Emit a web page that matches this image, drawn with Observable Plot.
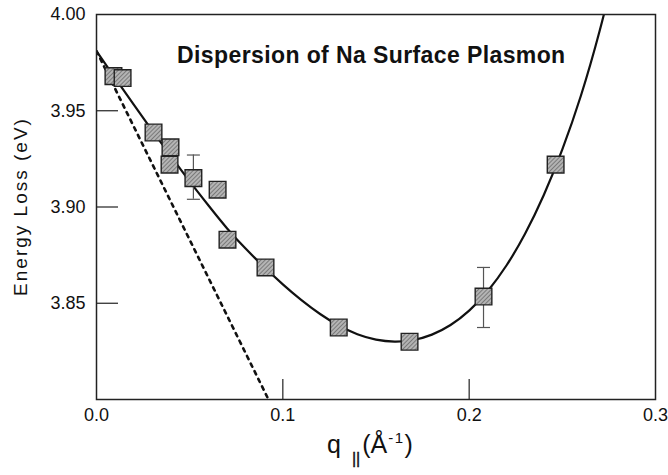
<!DOCTYPE html>
<html>
<head>
<meta charset="utf-8">
<script src="https://cdn.jsdelivr.net/npm/d3@7"></script>
<script src="https://cdn.jsdelivr.net/npm/@observablehq/plot@0.6"></script>
<style>
  html, body { margin: 0; padding: 0; background: #fff; }
  svg { display: block; }
</style>
</head>
<body>
<div id="chart"></div>
<script>
// Measured data points (q in 1/Å, energy loss in eV)
const qPoints = [0.0091, 0.0140, 0.0306, 0.0392, 0.0397, 0.0520, 0.0650, 0.0703, 0.0907, 0.1300, 0.1680, 0.2077, 0.2464];
const ePoints = [3.968, 3.967, 3.9387, 3.922, 3.931, 3.915, 3.909, 3.883, 3.8686, 3.8374, 3.830, 3.8535, 3.922];

// Error bars
const errQ = [0.0520, 0.2077];
const errLo = [3.904, 3.8374];
const errHi = [3.927, 3.8686];

// Solid fitted curve
const curveQ = [0, 0.01, 0.02, 0.03, 0.04, 0.05, 0.06, 0.07, 0.08, 0.09, 0.10, 0.11, 0.12, 0.13, 0.14, 0.15, 0.16, 0.17, 0.18, 0.19, 0.20, 0.21, 0.22, 0.23, 0.24, 0.25, 0.26, 0.27, 0.28];
const curveE = [3.981, 3.967, 3.9532, 3.9396, 3.9263, 3.9133, 3.9009, 3.8890, 3.8784, 3.8688, 3.8598, 3.8516, 3.8444, 3.8384, 3.8339, 3.8311, 3.8301, 3.8309, 3.8337, 3.8387, 3.8462, 3.8564, 3.8696, 3.8861, 3.9061, 3.9299, 3.9579, 3.9914, 4.030];

// Dotted line (classical dispersion)
const dashQ = [0, 0.0923];
const dashE = [3.981, 3.80];

// Ticks
const xTickLabels = [0.0, 0.1, 0.2, 0.3];
const yTickLabels = [4.00, 3.95, 3.90, 3.85];
const xInnerTicks = [0.1, 0.2];
const yInnerTicks = [3.95, 3.90, 3.85];

const points = qPoints.map((q, i) => ({q, e: ePoints[i]}));
const errs = errQ.map((q, i) => ({q, lo: errLo[i], hi: errHi[i]}));
const curve = curveQ.map((q, i) => ({q, e: curveE[i]}));
const dash = dashQ.map((q, i) => ({q, e: dashE[i]}));

const W = 668, H = 475;
const mL = 96, mR = 13, mT = 14, mB = 76;
const fw = W - mL - mR, fh = H - mT - mB;

const capSymbol = {
  draw(context, size) {
    const w = 6.5;
    context.moveTo(-w, 0);
    context.lineTo(w, 0);
  }
};

const svg = Plot.plot({
  width: W,
  height: H,
  marginLeft: mL,
  marginRight: mR,
  marginTop: mT,
  marginBottom: mB,
  style: {fontFamily: "'Liberation Sans', Arial, Helvetica, sans-serif", background: "#fff"},
  x: {domain: [0, 0.3]},
  y: {domain: [3.80, 4.00]},
  marks: [
    Plot.axisX(xTickLabels, {tickSize: 0, tickPadding: 9, fontSize: 18, tickFormat: d3.format(".1f"), label: null, fill: "#111"}),
    Plot.axisY(yTickLabels, {tickSize: 0, tickPadding: 11, fontSize: 18, tickFormat: d3.format(".2f"), label: null, fill: "#111"}),
    Plot.tickY(yInnerTicks, {y: d => d, insetRight: fw - 22, stroke: "#222", strokeWidth: 1.2}),
    Plot.tickX(xInnerTicks, {x: d => d, insetTop: fh - 20, stroke: "#222", strokeWidth: 1.2}),
    Plot.line(dash, {x: "q", y: "e", stroke: "#111", strokeWidth: 2.6, strokeDasharray: "3.5,5", clip: true}),
    Plot.line(curve, {x: "q", y: "e", stroke: "#111", strokeWidth: 2.2, curve: "natural", clip: true}),
    Plot.ruleX(errs, {x: "q", y1: "lo", y2: "hi", stroke: "#555", strokeWidth: 1.2}),
    Plot.dot(errs, {x: "q", y: "lo", symbol: capSymbol, stroke: "#555", strokeWidth: 1.2, fill: "none"}),
    Plot.dot(errs, {x: "q", y: "hi", symbol: capSymbol, stroke: "#555", strokeWidth: 1.2, fill: "none"}),
    Plot.dot(points, {x: "q", y: "e", symbol: "square", r: 9.4, fill: "url(#hatch)", stroke: "#222", strokeWidth: 1.4}),
    Plot.frame({stroke: "#222", strokeWidth: 1.5})
  ]
});

const s = d3.select(svg);
const defs = s.insert("defs", ":first-child");
const pat = defs.append("pattern")
  .attr("id", "hatch")
  .attr("patternUnits", "userSpaceOnUse")
  .attr("width", 3).attr("height", 3)
  .attr("patternTransform", "rotate(45)");
pat.append("rect").attr("width", 3).attr("height", 3).attr("fill", "#b4b4b4");
pat.append("line").attr("x1", 0).attr("y1", 0).attr("x2", 0).attr("y2", 3)
  .attr("stroke", "#5a5a5a").attr("stroke-width", 1.3);

const font = "'Liberation Sans', Arial, Helvetica, sans-serif";

// Title inside plot
s.append("text")
  .attr("x", 177).attr("y", 63)
  .attr("text-anchor", "start")
  .attr("font-family", font)
  .attr("font-weight", "bold")
  .attr("font-size", 23)
  .attr("letter-spacing", 0.4)
  .attr("fill", "#111")
  .text("Dispersion of Na Surface Plasmon");

// Y axis label
s.append("text")
  .attr("transform", `translate(27, ${mT + fh / 2}) rotate(-90)`)
  .attr("text-anchor", "middle")
  .attr("font-family", font)
  .attr("font-size", 19)
  .attr("letter-spacing", 2)
  .attr("fill", "#111")
  .text("Energy Loss (eV)");

// X axis label: q_|| (Å^-1)
const xl = s.append("text")
  .attr("x", 327).attr("y", 453)
  .attr("text-anchor", "start")
  .attr("font-family", font)
  .attr("font-size", 25)
  .attr("fill", "#111");
xl.append("tspan").text("q");
xl.append("tspan").attr("dx", 11).attr("dy", 11).attr("font-size", 16)
  .attr("stroke", "#111").attr("stroke-width", 0.4).text("||");
xl.append("tspan").attr("dx", 2).attr("dy", -11).text("(Å");
xl.append("tspan").attr("dx", 1).attr("dy", -10).attr("font-size", 15).attr("letter-spacing", 1.5).text("-1");
xl.append("tspan").attr("dy", 10).text(")");

document.getElementById("chart").appendChild(svg);
</script>
</body>
</html>
